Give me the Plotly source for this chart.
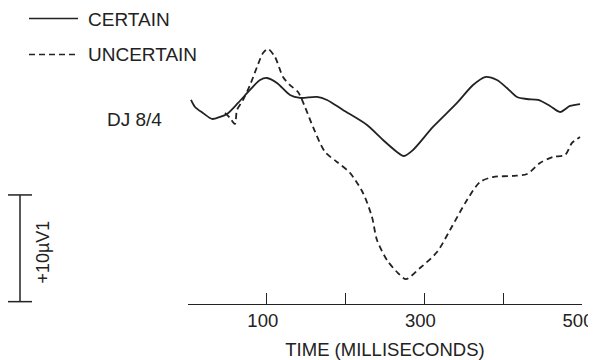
import plotly.graph_objects as go

# CERTAIN (solid) waveform: time (ms), amplitude (µV, positive plotted downward)
certain_t = [3.8, 8.9, 19.0, 30.5, 40.6, 49.5, 63.5, 78.7, 91.4, 100.3, 112.9, 129.4, 142.1,
             163.7, 176.4, 196.7, 227.2, 247.5, 265.2, 274.1, 285.5, 310.9, 341.4, 361.7,
             376.9, 392.1, 404.8, 417.5, 430.2, 444.2, 459.4, 472.1, 484.8, 497.5]
certain_v = [-0.47, 0.19, 0.75, 1.31, 1.12, 0.84, -0.19, -1.41, -2.34, -2.53, -2.06, -0.94, -0.66,
             -0.75, -0.47, 0.47, 1.87, 3.28, 4.40, 4.78, 4.22, 2.06, -0.19, -1.87,
             -2.62, -2.34, -1.59, -0.75, -0.56, -0.47, 0.09, 0.66, 0.09, -0.09]

# UNCERTAIN (dashed) waveform
uncertain_t = [47.0, 53.3, 59.6, 62.2, 69.8, 78.7, 87.6, 95.2, 101.5, 110.4, 120.6, 129.4, 139.6,
               148.5, 158.6, 173.9, 189.1, 205.6, 222.1, 233.5, 239.8, 252.5, 266.5, 276.6,
               294.4, 316.0, 332.5, 354.1, 370.6, 387.1, 412.4, 430.2, 446.7, 463.2, 478.4,
               487.3, 497.5]
uncertain_v = [0.75, 1.22, 1.78, 0.47, -0.47, -1.87, -3.56, -4.87, -5.25, -4.50, -2.62, -1.87, -1.22,
               0.19, 2.06, 4.40, 5.34, 6.37, 8.25, 10.50, 12.65, 14.53, 15.75, 16.31,
               15.28, 13.78, 11.72, 8.90, 7.22, 6.75, 6.65, 6.47, 5.44, 4.87, 4.69,
               3.56, 3.00]

tick_vals = [0, 100, 200, 300, 400, 500]
tick_text = ["", "100", "", "300", "", "500"]

series_names = ["CERTAIN", "UNCERTAIN"]
subject_label = "DJ 8/4"
scale_label = "+10µV1"
scale_top, scale_bottom = 8.43, 18.43  # 10 µV calibration bar
x_title = "TIME (MILLISECONDS)"

INK = "#222222"
FONT = "Liberation Sans, Arial, Helvetica, sans-serif"

fig = go.Figure()
fig.add_trace(go.Scatter(x=certain_t, y=certain_v, mode="lines", name=series_names[0],
                         line=dict(color=INK, width=1.8, shape="spline", smoothing=0.8)))
fig.add_trace(go.Scatter(x=uncertain_t, y=uncertain_v, mode="lines", name=series_names[1],
                         line=dict(color=INK, width=1.8, dash="6px,4px", shape="spline", smoothing=0.8)))

# page body has an 8px margin; figure is sized to fit the 596x360 window
W, H = 588, 352
L, R, T, B = 180, 14, 2, 56
pw, ph = W - L - R, H - T - B


def px(x):  # reference-window pixel x -> paper
    return (x - 188) / pw


def py(y):  # reference-window pixel y -> paper
    return (304 - y) / ph


shapes = [
    # legend samples
    dict(type="line", xref="paper", yref="paper", x0=px(29), x1=px(78), y0=py(18.5), y1=py(18.5),
         line=dict(color=INK, width=1.5)),
    dict(type="line", xref="paper", yref="paper", x0=px(29), x1=px(78), y0=py(54.5), y1=py(54.5),
         line=dict(color=INK, width=1.5, dash="6px,4px")),
    # calibration bar
    dict(type="line", xref="paper", yref="y", x0=px(20), x1=px(20), y0=scale_top, y1=scale_bottom,
         line=dict(color=INK, width=1.5)),
    dict(type="line", xref="paper", yref="y", x0=px(8), x1=px(32), y0=scale_top, y1=scale_top,
         line=dict(color=INK, width=1.5)),
    dict(type="line", xref="paper", yref="y", x0=px(8), x1=px(32), y0=scale_bottom, y1=scale_bottom,
         line=dict(color=INK, width=1.5)),
]

annotations = [
    dict(text=series_names[0], xref="paper", yref="paper", x=px(86), y=py(19), xanchor="left",
         yanchor="middle", showarrow=False, font=dict(size=19, color=INK, family=FONT)),
    dict(text=series_names[1], xref="paper", yref="paper", x=px(86), y=py(55), xanchor="left",
         yanchor="middle", showarrow=False, font=dict(size=19, color=INK, family=FONT)),
    dict(text=subject_label, xref="paper", yref="paper", x=px(105), y=py(120), xanchor="left",
         yanchor="middle", showarrow=False, font=dict(size=19, color=INK, family=FONT)),
    dict(text=scale_label, xref="paper", yref="y", x=px(43), y=(scale_top + scale_bottom) / 2 + 0.4,
         xanchor="center", yanchor="middle", textangle=-90, showarrow=False,
         font=dict(size=18, color=INK, family=FONT)),
]

fig.update_layout(
    width=W, height=H,
    margin=dict(l=L, r=R, t=T, b=B),
    paper_bgcolor="white", plot_bgcolor="white",
    showlegend=False,
    font=dict(family=FONT, color=INK, size=19),
    shapes=shapes, annotations=annotations,
    xaxis=dict(range=[0, 500], showline=True, linecolor=INK, linewidth=1.3,
               ticks="inside", ticklen=11, tickwidth=1.3, tickcolor=INK,
               tickvals=tick_vals, ticktext=tick_text, showgrid=False, zeroline=False,
               ticklabelshift=-4,
               tickfont=dict(size=18.5, color=INK, family=FONT),
               title=dict(text=x_title, font=dict(size=18.5, color=INK, family=FONT), standoff=13)),
    yaxis=dict(range=[18.65, -8.90], visible=False, showgrid=False, zeroline=False),
)

fig.write_html(
    "out.html",
    post_script="document.documentElement.style.overflow='hidden';document.body.style.overflow='hidden';",
)
